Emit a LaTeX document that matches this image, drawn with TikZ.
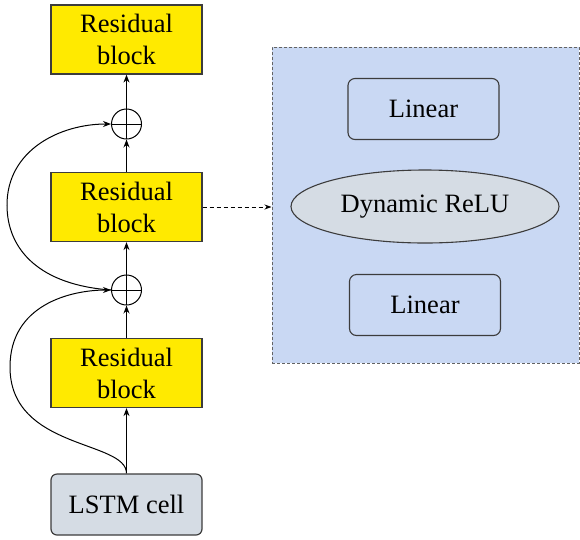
\documentclass[tikz,border=0pt]{standalone}
\usepackage{fontspec}
\setmainfont{Liberation Serif}
\usetikzlibrary{arrows.meta,shapes.geometric}
\definecolor{resyellow}{RGB}{255,234,0}
\definecolor{cellgray}{RGB}{213,220,228}
\definecolor{panelblue}{RGB}{201,216,243}
\definecolor{edgegray}{RGB}{60,60,60}
\tikzset{
  lbl/.style={font=\fontsize{26.5}{32}\selectfont, align=center, text=black},
  resblock/.style={lbl, draw=edgegray, line width=1.2pt, fill=resyellow,
    minimum width=151pt, minimum height=69pt, inner sep=0pt},
  cellbox/.style={lbl, draw=edgegray, line width=1.2pt, fill=cellgray,
    rounded corners=6pt, minimum width=151pt, minimum height=61pt, inner sep=0pt},
  linbox/.style={lbl, draw=edgegray, line width=1.1pt, fill=panelblue,
    rounded corners=7pt, minimum width=151pt, minimum height=61pt, inner sep=0pt},
  relu/.style={lbl, ellipse, draw=edgegray, line width=1.1pt, fill=cellgray,
    minimum width=268pt, minimum height=73pt, inner sep=0pt},
  panel/.style={draw=edgegray!80, dashed, dash pattern=on 3pt off 2pt,
    line width=1pt, fill=panelblue, minimum width=307pt, minimum height=316pt,
    inner sep=0pt},
  addop/.style={circle, draw=black, line width=1pt, minimum size=30pt,
    inner sep=0pt, fill=white,
    path picture={\draw[line width=1pt]
      (path picture bounding box.north) -- (path picture bounding box.south)
      (path picture bounding box.west) -- (path picture bounding box.east);}},
  flow/.style={line width=1.1pt, -{Stealth[length=8pt,width=6pt]}},
  skip/.style={line width=1pt, -{Stealth[length=8pt,width=6pt]}},
}
\begin{document}
\begin{tikzpicture}[x=1pt,y=-1pt]
\useasboundingbox (0,0) rectangle (580,539);

% main stack
\node[resblock] (res3) at (126.5,39.5) {Residual\\block};
\node[addop]    (add2) at (126.5,124) {};
\node[resblock] (res2) at (126.5,207) {Residual\\block};
\node[addop]    (add1) at (126.5,290) {};
\node[resblock] (res1) at (126.5,373) {Residual\\block};
\node[cellbox]  (lstm) at (126.5,504.5) {LSTM cell};

% detail of the residual block
\node[panel] (panel) at (425.5,205) {};
\node[linbox] (lin1) at (423.5,109) {Linear};
\node[relu]   (dyn)  at (425,206.5) {Dynamic ReLU};
\node[linbox] (lin2) at (425,305) {Linear};

% forward path
\draw[flow] (lstm.north) -- (res1.south);
\draw[flow] (res1.north) -- (add1.south);
\draw[flow] (add1.north) -- (res2.south);
\draw[flow] (res2.north) -- (add2.south);
\draw[flow] (add2.north) -- (res3.south);

% skip connections
\draw[skip] (lstm.north)
  .. controls (126.5,440) and (10,450) .. (10,367)
  .. controls (10,305) and (70,290) .. (add1.west);
\draw[skip] (add1.west)
  .. controls (40,285) and (7,250) .. (7,205)
  .. controls (7,150) and (60,124) .. (add2.west);

% link to the detail panel
\draw[line width=1pt, dashed, dash pattern=on 4pt off 3pt,
  -{Stealth[length=7pt,width=5pt]}] (res2.east) -- (panel.west |- res2.east);
\end{tikzpicture}
\end{document}
